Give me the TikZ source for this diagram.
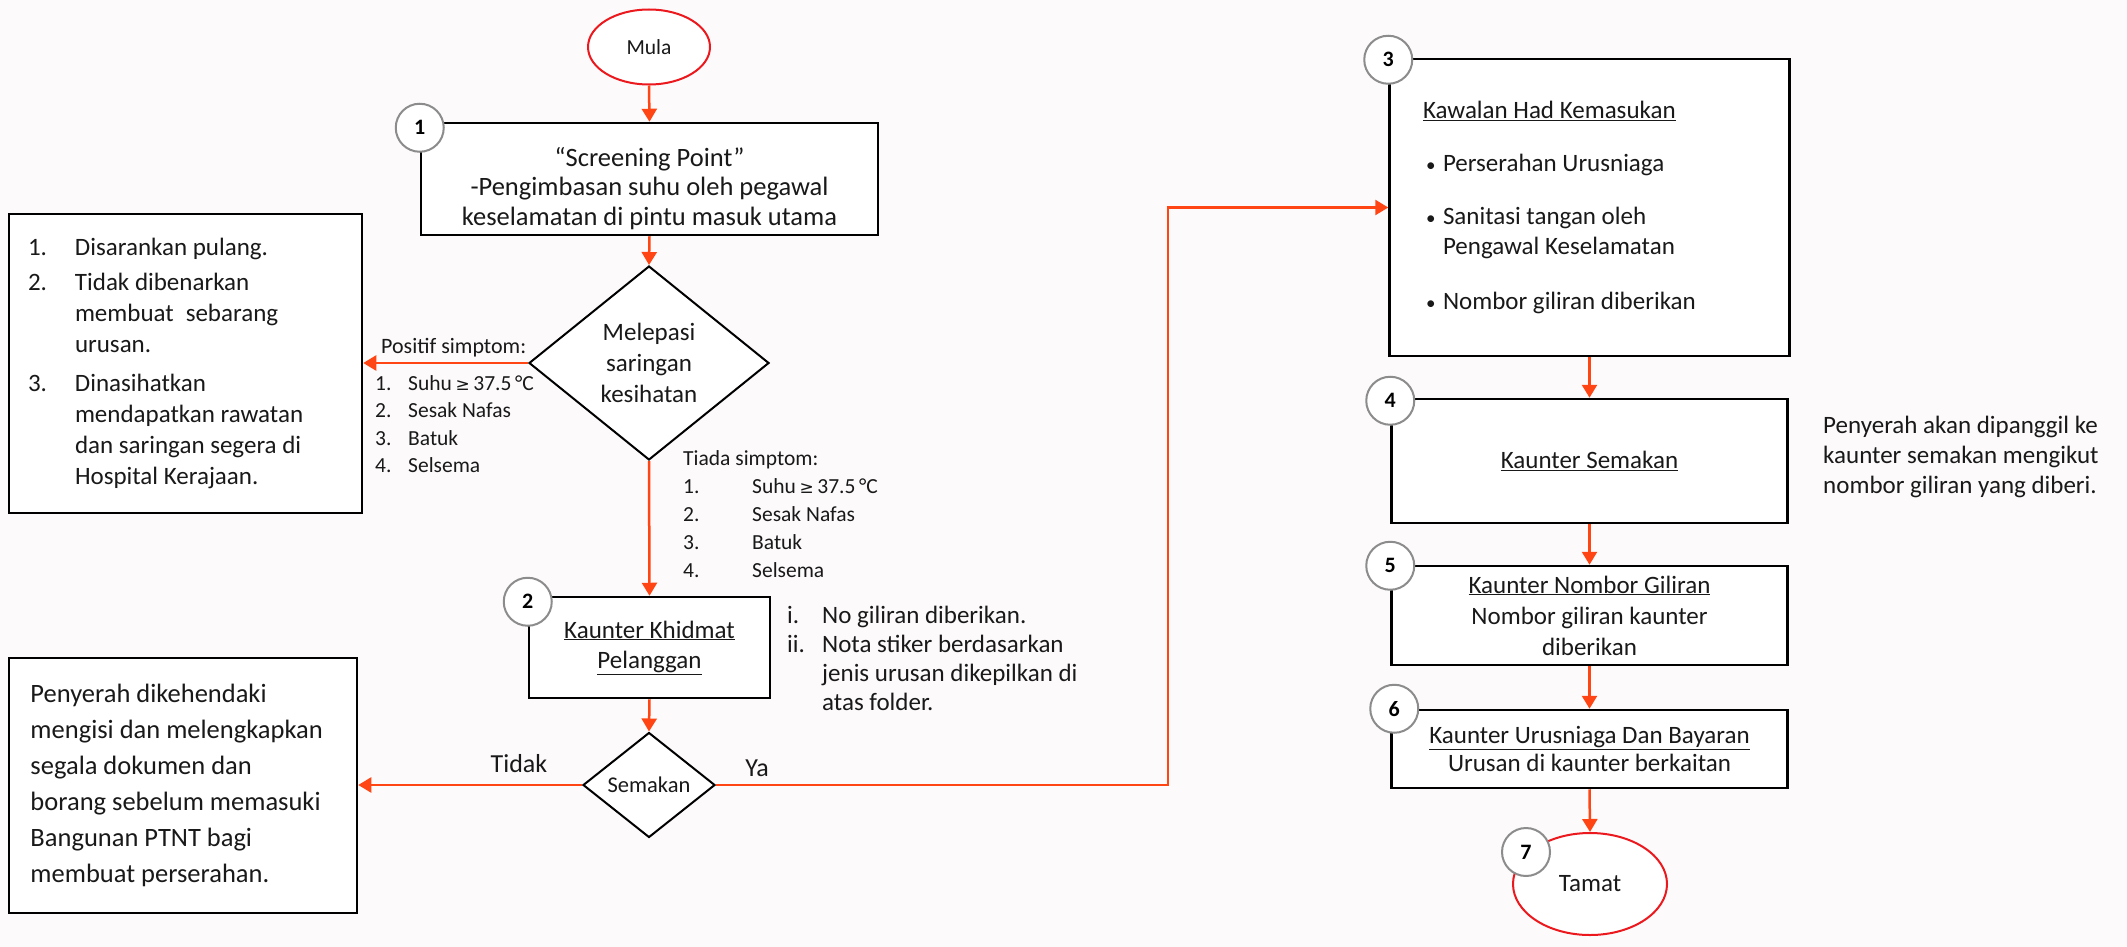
\documentclass[tikz,border=0pt]{standalone}
\usepackage{fontspec}
\setmainfont{Carlito}
\newfontfamily\symfont{DejaVu Sans}
\usepackage{tikz}
\usetikzlibrary{shapes.geometric,arrows.meta}

\definecolor{flowred}{RGB}{255,69,20}
\definecolor{ovalred}{RGB}{235,25,30}
\definecolor{ringgray}{RGB}{140,140,140}
\definecolor{inkblack}{RGB}{25,25,25}
\definecolor{paper}{RGB}{252,250,251}

\newcommand{\fsz}[2]{\fontsize{#1}{#2}\selectfont}
\newcommand{\geqsym}{{\symfont\fontsize{17}{17}\selectfont ≥}}
\newcommand{\dotitem}{\hspace*{3pt}\makebox[17pt][l]{{\fsz{19}{19}\textbullet}}}

\begin{document}
\begin{tikzpicture}[x=1pt,y=-1pt,
    box/.style={draw=black,line width=2.5pt,fill=white,inner sep=0pt,text=inkblack},
    decision/.style={diamond,draw=black,line width=2pt,fill=white,inner sep=0pt,text=inkblack},
    terminal/.style={ellipse,draw=ovalred,line width=2pt,fill=white,inner sep=0pt,text=inkblack},
    stepno/.style={circle,draw=ringgray,line width=2pt,fill=white,minimum size=48pt,inner sep=0pt,font=\bfseries\fsz{22}{22}},
    note/.style={inner sep=0pt,align=left,text=inkblack},
    flow/.style={draw=flowred,line width=2.5pt,-{Triangle[width=15pt,length=13pt]}}]
    \fill[paper] (0,0) rectangle (2127,947);
    \useasboundingbox (0,0) rectangle (2127,947);

    % Start
    \node[terminal,minimum width=122pt,minimum height=75pt,font=\fsz{21.5}{26}] (mula) at (649,47) {Mula};

    % Screening point
    \node[box,minimum width=457pt,minimum height=112pt,align=center,font=\fsz{26.5}{29.5}] (screen) at (649.5,179)
        {\rule{0pt}{38pt}“Screening Point”\\-Pengimbasan suhu oleh pegawal\\keselamatan di pintu masuk utama};

    % Health screening
    \node[decision,minimum width=240pt,minimum height=194pt,align=center,font=\fsz{25}{31}] (lepas) at (649,363)
        {Melepasi\\saringan\\kesihatan};

    % Positive symptoms
    \node[box,minimum width=353pt,minimum height=299pt,text width=315pt,align=flush left,font=\fsz{25}{31}] (pulang) at (185.5,363.5)
        {\makebox[47pt][l]{1.}Disarankan pulang.\\[4pt]
         \makebox[47pt][l]{2.}Tidak dibenarkan\\
         \hspace*{47pt}membuat\hspace{12pt}sebarang\\
         \hspace*{47pt}urusan.\\[8pt]
         \makebox[47pt][l]{3.}Dinasihatkan\\
         \hspace*{47pt}mendapatkan rawatan\\
         \hspace*{47pt}dan saringan segera di\\
         \hspace*{47pt}Hospital Kerajaan.};
    \node[note,font=\fsz{22}{27},anchor=west] (positif) at (381,348) {Positif simptom:};
    \node[note,font=\fsz{21.5}{27.5},anchor=north west] (poslist) at (375,375)
        {\makebox[33pt][l]{1.}Suhu\,\geqsym\,37.5\,°C\\
         \makebox[33pt][l]{2.}Sesak Nafas\\
         \makebox[33pt][l]{3.}Batuk\\
         \makebox[33pt][l]{4.}Selsema};

    % No symptoms
    \node[note,font=\fsz{21.5}{28},anchor=north west] (tiada) at (683,450)
        {Tiada simptom:\\
         \makebox[69pt][l]{1.}Suhu\,\geqsym\,37.5\,°C\\
         \makebox[69pt][l]{2.}Sesak Nafas\\
         \makebox[69pt][l]{3.}Batuk\\
         \makebox[69pt][l]{4.}Selsema};

    % Customer service counter
    \node[box,minimum width=241pt,minimum height=101pt,align=center,font=\fsz{25}{30}] (khidmat) at (649.5,647.5)
        {\underline{Kaunter Khidmat}\\\underline{Pelanggan}};
    \node[note,font=\fsz{25}{29},anchor=north west] (nota) at (787,606)
        {\makebox[35pt][l]{i.}No giliran diberikan.\\
         \makebox[35pt][l]{ii.}Nota stiker berdasarkan\\
         \hspace*{35pt}jenis urusan dikepilkan di\\
         \hspace*{35pt}atas folder.};

    % Document check
    \node[decision,minimum width=132pt,minimum height=105pt,font=\fsz{22.5}{26}] (semak) at (649,785) {Semakan};
    \node[box,minimum width=348pt,minimum height=255pt,text width=305pt,align=flush left,font=\fsz{26.5}{36}] (lengkap) at (183,785.5)
        {Penyerah dikehendaki\\mengisi dan melengkapkan\\segala dokumen dan\\borang sebelum memasuki\\Bangunan PTNT bagi\\membuat perserahan.};
    \node[font=\fsz{26}{26},text=inkblack] (tidak) at (519,764) {Tidak};
    \node[font=\fsz{26}{26},text=inkblack] (ya) at (757,768) {Ya};

    % Right column
    \node[box,minimum width=400pt,minimum height=297pt,text width=333pt,align=flush left,font=\fsz{25}{30}] (kawalan) at (1589.5,207.5)
        {\underline{Kawalan Had Kemasukan}\\[23pt]
         \dotitem Perserahan Urusniaga\\[23pt]
         \dotitem Sanitasi tangan oleh\\
         \hspace*{20pt}Pengawal Keselamatan\\[25pt]
         \dotitem Nombor giliran diberikan};
    \node[box,minimum width=396pt,minimum height=124pt,font=\fsz{25}{30}] (semakbox) at (1589.5,461) {\underline{Kaunter Semakan}};
    \node[note,font=\fsz{25}{30},anchor=north west] (panggil) at (1823,416)
        {Penyerah akan dipanggil ke\\kaunter semakan mengikut\\nombor giliran yang diberi.};
    \node[box,minimum width=396pt,minimum height=99pt,align=center,font=\fsz{25}{31}] (giliran) at (1589.5,615.5)
        {\underline{Kaunter Nombor Giliran}\\Nombor giliran kaunter\\diberikan};
    \node[box,minimum width=396pt,minimum height=78pt,align=center,font=\fsz{25}{28.5}] (bayaran) at (1589.5,749)
        {\underline{Kaunter Urusniaga Dan Bayaran}\\Urusan di kaunter berkaitan};
    \node[terminal,minimum width=154pt,minimum height=102pt,font=\fsz{25}{30}] (tamat) at (1590,884) {Tamat};

    % Step numbers
    \node[stepno] (n1) at ([yshift=-6pt]screen.north west) {1};
    \node[stepno] (n2) at ([yshift=-6pt]khidmat.north west) {2};
    \node[stepno] (n3) at ([yshift=-2pt]kawalan.north west) {3};
    \node[stepno] (n4) at ([yshift=-3pt]semakbox.north west) {4};
    \node[stepno] (n5) at ([yshift=-1pt]giliran.north west) {5};
    \node[stepno] (n6) at ([xshift=4pt]bayaran.north west) {6};
    \node[stepno] (n7) at (1526,852) {7};

    % Connectors
    \draw[flow] (mula.south) -- (screen.north);
    \draw[flow] (screen.south) -- (lepas.north);
    \draw[flow] (lepas.west) -- (lepas.west -| pulang.east);
    \draw[flow] (lepas.south) -- (khidmat.north);
    \draw[flow] (khidmat.south) -- (semak.north);
    \draw[flow] (semak.west) -- (semak.west -| lengkap.east);
    \coordinate (yabend) at (1168,785);
    \draw[flow] (semak.east) -- (yabend) |- (kawalan.west);
    \draw[flow] (kawalan.south) -- (semakbox.north);
    \draw[flow] (semakbox.south) -- (giliran.north);
    \draw[flow] (giliran.south) -- (bayaran.north);
    \draw[flow] (bayaran.south) -- (tamat.north);
\end{tikzpicture}
\end{document}
